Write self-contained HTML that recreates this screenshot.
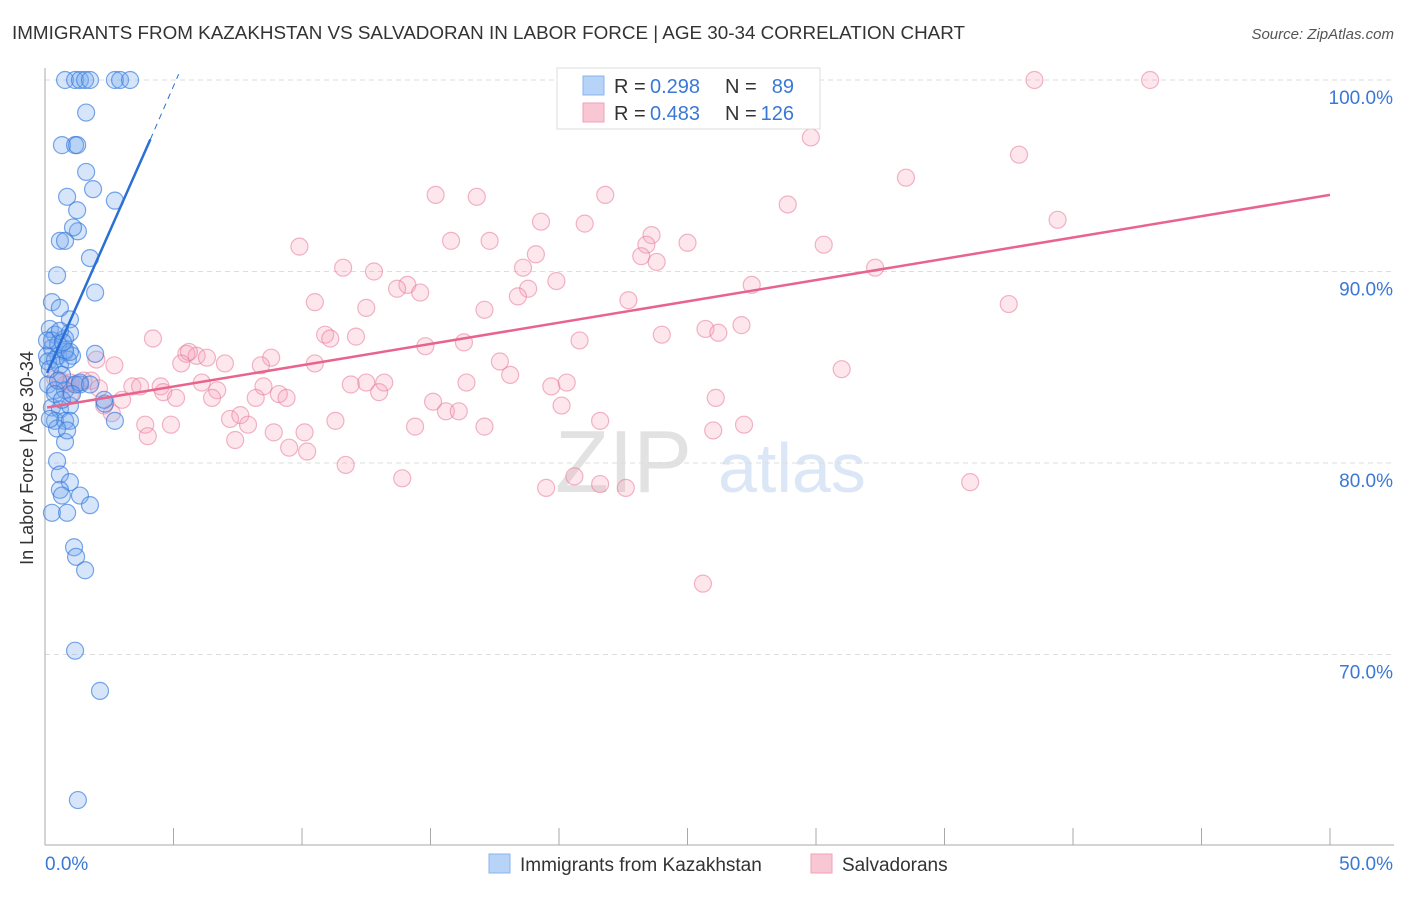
<!DOCTYPE html>
<html><head><meta charset="utf-8"><style>
body{margin:0;background:#fff;font-family:"Liberation Sans",sans-serif}
svg text{font-family:"Liberation Sans",sans-serif}
</style></head><body>
<svg id="c" width="1406" height="892">
<text x="12" y="39" font-size="18" fill="#333" textLength="953" lengthAdjust="spacingAndGlyphs">IMMIGRANTS FROM KAZAKHSTAN VS SALVADORAN IN LABOR FORCE | AGE 30-34 CORRELATION CHART</text>
<text x="1394" y="39" font-size="15" fill="#555" font-style="italic" text-anchor="end">Source: ZipAtlas.com</text>
<text transform="translate(33,458) rotate(-90)" font-size="18" fill="#333" text-anchor="middle">In Labor Force | Age 30-34</text>
<text x="555" y="492" font-size="88" fill="#e2e2e2" font-family="Liberation Serif">ZIP</text>
<text x="718" y="492" font-size="70" fill="#dbe7f6">atlas</text>
<g id="grid"></g><g id="pts"></g><g id="lines"></g>
<g>
<rect x="557" y="68" width="263" height="61" fill="#fff" stroke="#ddd"/>
<rect x="583" y="76" width="21" height="19" fill="#b7d3f7" stroke="#8ab4ee"/>
<rect x="583" y="103" width="21" height="19" fill="#f9c6d4" stroke="#f0a0b8"/>
<text x="614" y="93" font-size="20" fill="#333">R =</text>
<text x="650" y="93" font-size="20" fill="#3a78d6">0.298</text>
<text x="725" y="93" font-size="20" fill="#333">N =</text>
<text x="794" y="93" font-size="20" fill="#3a78d6" text-anchor="end">89</text>
<text x="614" y="120" font-size="20" fill="#333">R =</text>
<text x="650" y="120" font-size="20" fill="#3a78d6">0.483</text>
<text x="725" y="120" font-size="20" fill="#333">N =</text>
<text x="794" y="120" font-size="20" fill="#3a78d6" text-anchor="end">126</text>
</g>
<g>
<rect x="489" y="854" width="21" height="19" fill="#b7d3f7" stroke="#8ab4ee"/>
<text x="520" y="871" font-size="19" fill="#333">Immigrants from Kazakhstan</text>
<rect x="811" y="854" width="21" height="19" fill="#f9c6d4" stroke="#f0a0b8"/>
<text x="842" y="871" font-size="19" fill="#333">Salvadorans</text>
</g>
</svg>
<script>
const yTicks=[100,90,80,70];
const yTickLabels=["100.0%","90.0%","80.0%","70.0%"];
const xEnds=["0.0%","50.0%"];
const blueX=[0.78,1.17,1.36,1.56,1.75,2.72,2.92,3.31,1.6,0.66,1.17,1.25,1.6,0.86,1.87,2.72,1.25,0.58,0.78,1.28,1.09,1.75,0.47,0.27,0.58,0.97,1.95,0.19,0.39,0.78,0.97,0.27,0.51,0.78,1.05,0.08,0.12,0.39,0.58,1.95,0.66,0.12,0.39,0.78,1.17,1.36,0.27,0.58,0.97,0.39,0.78,0.97,2.33,2.72,0.78,0.47,0.58,0.97,0.58,0.66,1.36,1.75,0.27,0.86,1.13,1.21,1.56,1.17,2.14,1.28,0.27,0.51,0.08,0.19,0.89,1.36,0.51,1.75,0.39,0.66,1.05,0.47,0.86,0.19,2.3,0.58,0.78,0.97,0.7];
const blueY=[100,100,100,100,100,100,100,100,98.3,96.6,96.6,96.6,95.2,93.9,94.3,93.7,93.2,91.6,91.6,92.1,92.3,90.7,89.8,88.4,88.1,87.5,88.9,87.0,86.7,86.5,86.8,86.0,85.6,85.8,85.6,85.6,85.3,85.4,85.1,85.7,84.6,84.1,83.8,83.8,84.1,84.1,82.9,82.8,83.0,82.2,82.2,82.2,83.1,82.2,81.1,80.1,79.4,79.0,78.6,78.3,78.3,77.8,77.4,77.4,75.6,75.1,74.4,70.2,68.1,62.4,86.4,86.2,86.4,84.9,85.4,84.2,84.3,84.1,83.6,83.3,83.6,81.8,81.7,82.3,83.3,86.9,85.9,85.8,86.3];
const pinkX=[38.5,43.0,29.8,37.9,33.5,15.2,16.8,21.8,28.9,39.4,19.3,21.0,23.6,9.9,15.8,17.3,25.0,30.3,23.4,23.2,19.1,23.8,18.6,11.6,12.8,32.3,14.1,13.7,14.6,18.8,18.4,19.9,27.5,10.5,12.5,17.1,22.7,37.5,10.9,12.1,11.1,4.2,16.3,20.8,14.8,24.0,25.7,26.2,27.1,5.5,5.9,5.6,6.3,8.8,10.5,17.7,7.0,2.7,5.3,8.4,2.0,18.1,31.0,1.5,1.8,2.1,3.4,3.7,4.5,4.6,5.1,6.1,6.7,6.5,8.5,11.9,12.5,13.2,13.0,16.4,19.7,20.3,8.2,9.1,9.4,1.0,1.2,0.8,0.6,3.0,2.3,2.6,15.1,26.1,20.1,15.6,16.1,7.2,7.6,7.9,11.3,21.6,3.9,4.9,14.4,17.1,26.0,27.2,8.9,10.1,7.4,4.0,9.5,10.2,11.7,13.9,20.6,19.5,21.6,22.6,36.0,25.6,0.4,1.0];
const pinkY=[100,100,97.0,96.1,94.9,94.0,93.9,94.0,93.5,92.7,92.6,92.5,91.9,91.3,91.6,91.6,91.5,91.4,91.4,90.8,90.9,90.5,90.2,90.2,90.0,90.2,89.3,89.1,88.9,89.1,88.7,89.5,89.3,88.4,88.1,88.0,88.5,88.3,86.7,86.6,86.5,86.5,86.3,86.4,86.1,86.7,87.0,86.8,87.2,85.7,85.6,85.8,85.5,85.5,85.2,85.3,85.2,85.1,85.2,85.1,85.4,84.6,84.9,84.3,84.3,83.9,84.0,84.0,84.0,83.7,83.4,84.2,83.8,83.4,84.0,84.1,84.2,84.2,83.7,84.2,84.0,84.2,83.4,83.6,83.4,84.2,84.1,84.1,84.3,83.3,83.0,82.6,83.2,83.4,83.0,82.7,82.7,82.3,82.5,82.0,82.2,82.2,82.0,82.0,81.9,81.9,81.7,82.0,81.6,81.6,81.2,81.4,80.8,80.6,79.9,79.2,79.3,78.7,78.9,78.7,79.0,73.7,84.4,83.6];
const blueLine=[[0.08,84.7],[4.1,96.9],[5.2,100.3]];
const pinkLine=[[0.08,82.9],[50,94.0]];
const X=v=>45+v*25.7, Y=v=>80+(100-v)*19.15;
const NS="http://www.w3.org/2000/svg";
function mk(t,a,p){const e=document.createElementNS(NS,t);for(const k in a)e.setAttribute(k,a[k]);p.appendChild(e);return e;}
const grid=document.getElementById('grid'),pts=document.getElementById('pts'),lines=document.getElementById('lines');
yTicks.forEach((t,i)=>{
 const g=mk('line',{x1:45,x2:1394,y1:Y(t),y2:Y(t),stroke:'#ddd','stroke-dasharray':'5,4'},grid);
 
 
 const l=mk('text',{x:1393,y:Y(t)+24,'font-size':19,fill:'#3a78d6','text-anchor':'end'},grid);
 l.textContent=yTickLabels[i];
 
 
});
const ax=mk('line',{x1:45,x2:45,y1:68,y2:845,stroke:'#aaa'},grid);


const bx=mk('line',{x1:45,x2:1394,y1:845,y2:845,stroke:'#aaa'},grid);


for(let i=0;i<=10;i++){const t=mk('line',{x1:X(i*5),x2:X(i*5),y1:828,y2:845,stroke:'#aaa'},grid);
 
 }
[[0,'start',45],[50,'end',1393]].forEach((d,i)=>{const t=mk('text',{x:d[2],y:870,'font-size':19,fill:'#3a78d6','text-anchor':d[1]},grid);t.textContent=xEnds[i];
 
 });
pinkX.forEach((x,i)=>{const c=mk('circle',{cx:X(x),cy:Y(pinkY[i]),r:8.5,fill:'rgba(246,160,185,0.25)',stroke:'rgba(232,120,155,0.55)','stroke-width':1.2},pts);
 
 });
blueX.forEach((x,i)=>{const c=mk('circle',{cx:X(x),cy:Y(blueY[i]),r:8.5,fill:'rgba(120,170,240,0.3)',stroke:'rgba(50,120,220,0.65)','stroke-width':1.2},pts);
 
 });
const b1=mk('line',{x1:X(blueLine[0][0]),y1:Y(blueLine[0][1]),x2:X(blueLine[1][0]),y2:Y(blueLine[1][1]),stroke:'#2a6fd6','stroke-width':2.5},lines);


const b2=mk('line',{x1:X(blueLine[1][0]),y1:Y(blueLine[1][1]),x2:X(blueLine[2][0]),y2:Y(blueLine[2][1]),stroke:'#2a6fd6','stroke-width':1,'stroke-dasharray':'6,5'},lines);


const p1=mk('line',{x1:X(pinkLine[0][0]),y1:Y(pinkLine[0][1]),x2:X(pinkLine[1][0]),y2:Y(pinkLine[1][1]),stroke:'#e8648e','stroke-width':2.5},lines);


</script>
</body></html>
